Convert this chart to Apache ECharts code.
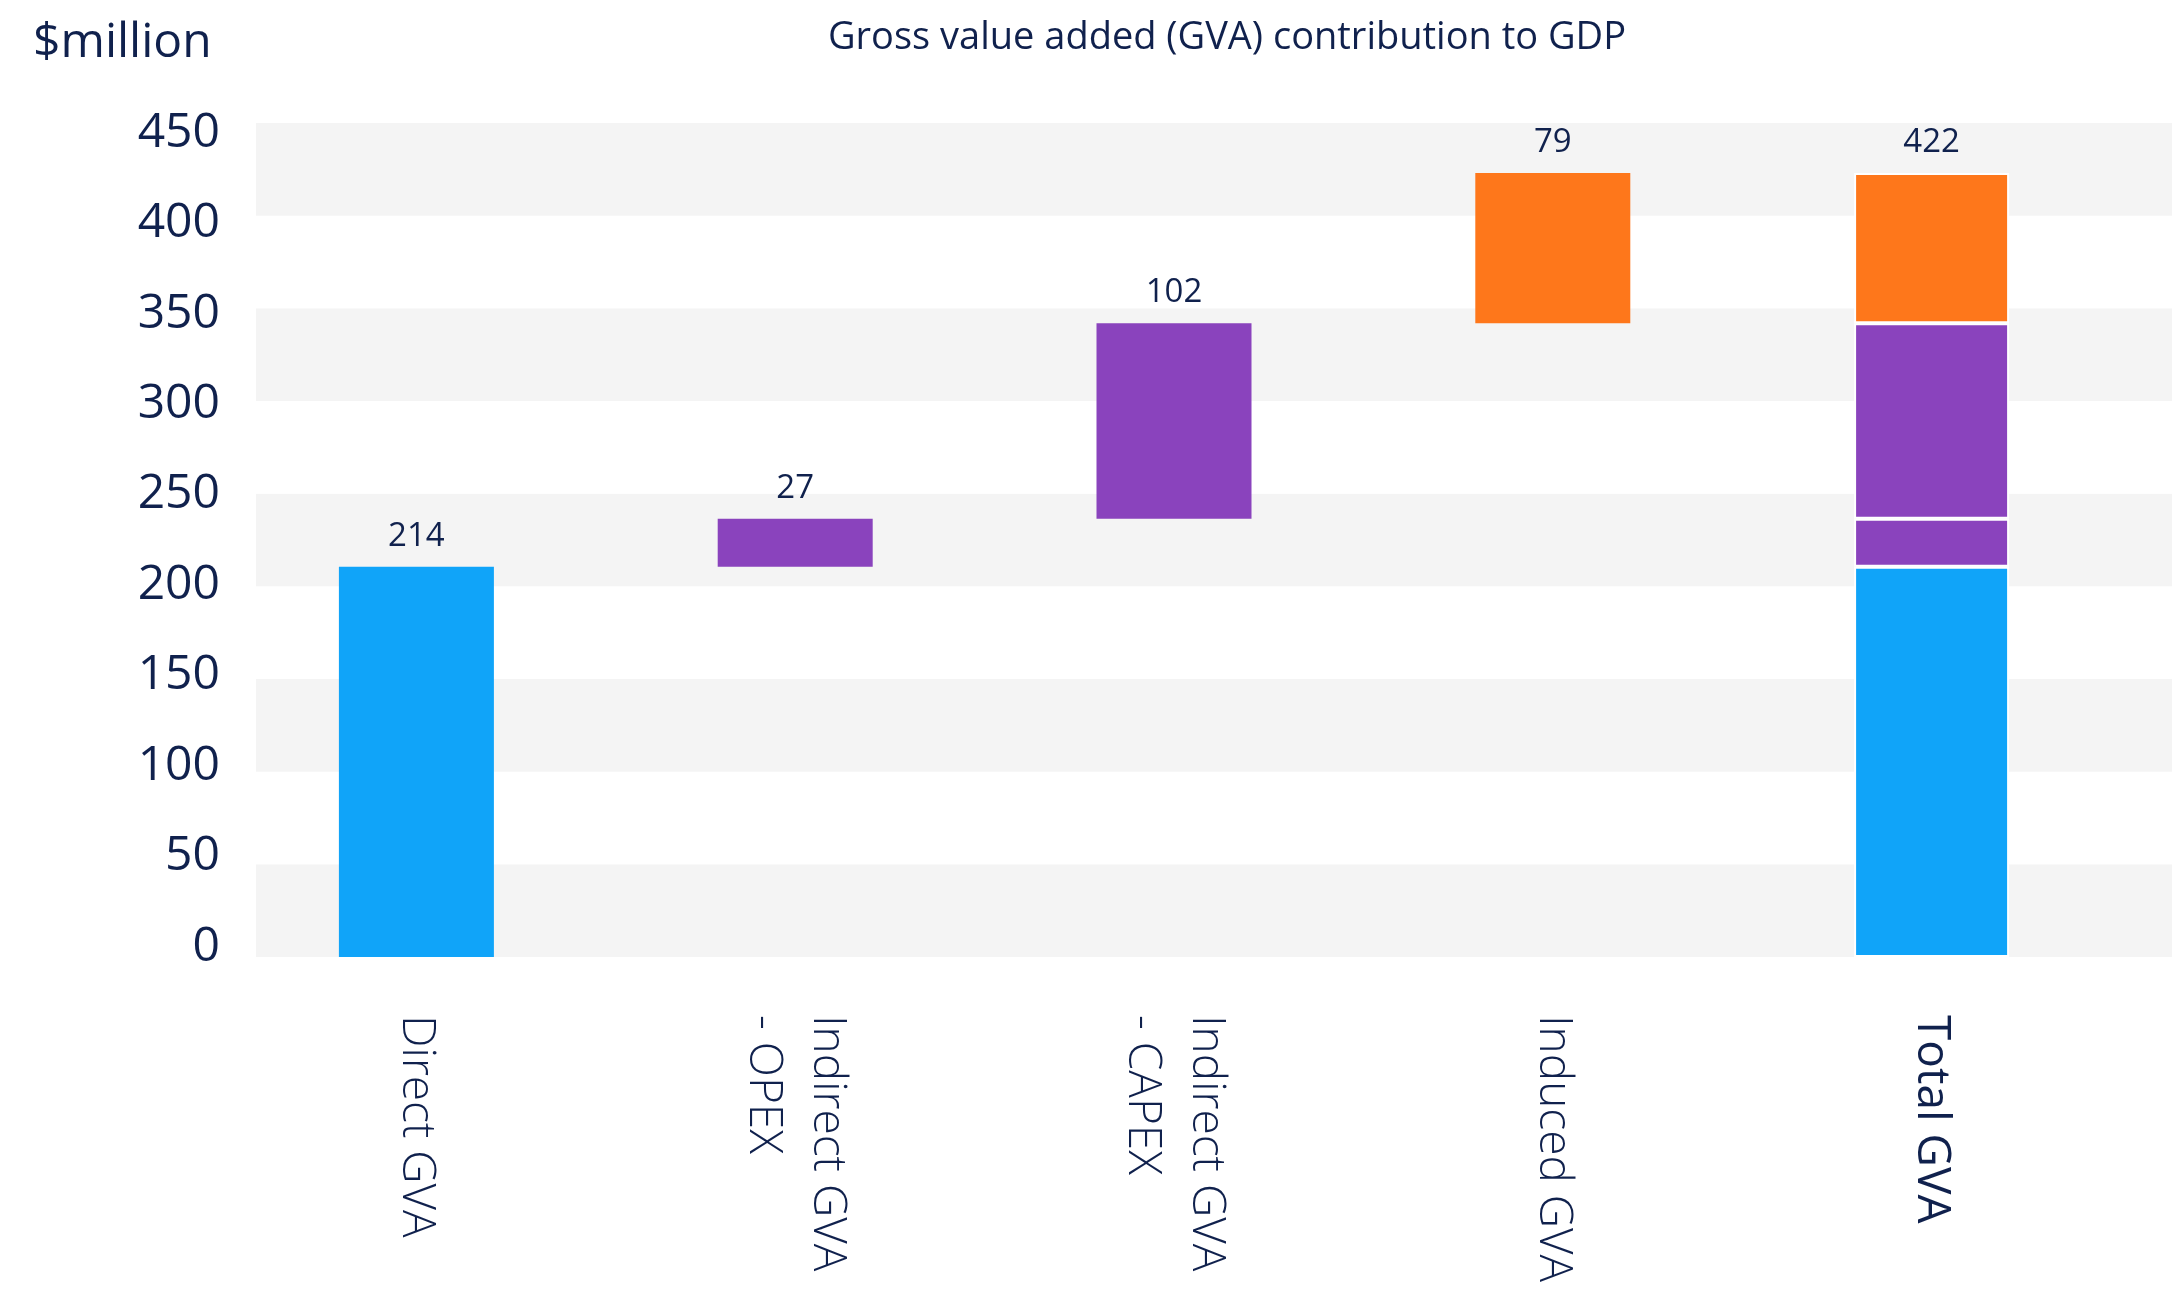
<!DOCTYPE html>
<html>
<head>
<meta charset="utf-8">
<script src="https://cdn.jsdelivr.net/npm/echarts@6/dist/echarts.min.js"></script>
<style>
  html, body { margin: 0; padding: 0; background: #fff; }
  #chart { width: 2172px; height: 1292px; }
</style>
</head>
<body>
<div id="chart"></div>
<script>
// categories along the x axis
const categories = ["Direct GVA", "Indirect GVA\n- OPEX", "Indirect GVA\n- CAPEX", "Induced GVA", "Total GVA"];
// bar heights as drawn ($million)
const directGva = 210.5;
const opexGva = 26;
const capexGva = 105.5;
const inducedGva = 81;
// value labels printed above the bars
const valueLabels = ["214", "27", "102", "79", "422"];
const yTicks = { min: 0, max: 450, interval: 50 };

const navy = "#10214d";
const font = "'Open Sans', 'Noto Sans', sans-serif";
const colors = { direct: "#10a4f9", indirect: "#8a43bd", induced: "#fe771b" };

const chart = echarts.init(document.getElementById("chart"));

const steps = [directGva, opexGva, capexGva, inducedGva];
let running = 0;
const offsets = steps.map(v => {
  const o = running;
  running += v;
  return o;
});
offsets.push(0); // total bar starts at zero

const totalBorder = { borderColor: "#ffffff", borderWidth: 2 };

function seriesData(stepIdx) {
  return categories.map((c, i) => {
    if (i === stepIdx) {
      return {
        value: steps[stepIdx],
        label: { show: true, formatter: valueLabels[i] }
      };
    }
    if (i === categories.length - 1) {
      const item = { value: steps[stepIdx], itemStyle: totalBorder };
      if (stepIdx === steps.length - 1) {
        item.label = { show: true, formatter: valueLabels[i] };
      }
      return item;
    }
    return 0;
  });
}

const barCommon = {
  type: "bar",
  stack: "gva",
  xAxisIndex: 1,
  yAxisIndex: 1,
  barWidth: 155,
  label: {
    show: false,
    position: "top",
    distance: 14,
    color: navy,
    fontFamily: font,
    fontSize: 33
  },
  emphasis: { disabled: true }
};

chart.setOption({
  animation: false,
  backgroundColor: "#ffffff",
  textStyle: { fontFamily: font, color: navy },
  title: [
    {
      text: "Gross value added (GVA) contribution to GDP",
      left: 1222,
      top: 14,
      textAlign: "center",
      textStyle: { fontFamily: font, fontSize: 38, fontWeight: "normal", color: navy }
    },
    {
      text: "$million",
      left: 28,
      top: 14,
      textStyle: { fontFamily: font, fontSize: 48, fontWeight: "normal", color: navy }
    }
  ],
  grid: [
    // shaded bands
    { left: 256, right: 0, top: 123, bottom: 335 },
    // bars
    { left: 227, right: 51, top: 123, bottom: 335 },
    // y tick labels
    { left: 256, right: 0, top: 133, bottom: 345 }
  ],
  xAxis: [
    { type: "category", gridIndex: 0, data: categories, show: false },
    {
      type: "category",
      gridIndex: 1,
      data: categories.map((c, i) =>
        i === categories.length - 1
          ? { value: c, textStyle: { fontWeight: "normal" } }
          : c
      ),
      axisLine: { show: false },
      axisTick: { show: false },
      axisLabel: {
        rotate: -90,
        margin: 58,
        interval: 0,
        fontFamily: font,
        fontSize: 46,
        fontWeight: 300,
        lineHeight: 64,
        color: navy
      }
    },
    { type: "category", gridIndex: 2, data: categories, show: false }
  ],
  yAxis: [
    {
      type: "value",
      gridIndex: 0,
      min: yTicks.min,
      max: yTicks.max,
      interval: yTicks.interval,
      axisLine: { show: false },
      axisTick: { show: false },
      axisLabel: { show: false },
      splitLine: { show: false },
      splitArea: { show: true, areaStyle: { color: ["#f4f4f4", "#ffffff"] } }
    },
    {
      type: "value",
      gridIndex: 1,
      min: yTicks.min,
      max: yTicks.max,
      interval: yTicks.interval,
      show: false,
      splitLine: { show: false }
    },
    {
      type: "value",
      gridIndex: 2,
      min: yTicks.min,
      max: yTicks.max,
      interval: yTicks.interval,
      axisLine: { show: false },
      axisTick: { show: false },
      splitLine: { show: false },
      axisLabel: { margin: 36, fontFamily: font, fontSize: 48, color: navy }
    }
  ],
  series: [
    Object.assign({}, barCommon, {
      name: "offset",
      data: offsets,
      itemStyle: { color: "rgba(0,0,0,0)" }
    }),
    Object.assign({}, barCommon, {
      name: "Direct GVA",
      data: seriesData(0),
      itemStyle: { color: colors.direct }
    }),
    Object.assign({}, barCommon, {
      name: "Indirect GVA - OPEX",
      data: seriesData(1),
      itemStyle: { color: colors.indirect }
    }),
    Object.assign({}, barCommon, {
      name: "Indirect GVA - CAPEX",
      data: seriesData(2),
      itemStyle: { color: colors.indirect }
    }),
    Object.assign({}, barCommon, {
      name: "Induced GVA",
      data: seriesData(3),
      itemStyle: { color: colors.induced }
    })
  ]
});
</script>
</body>
</html>
